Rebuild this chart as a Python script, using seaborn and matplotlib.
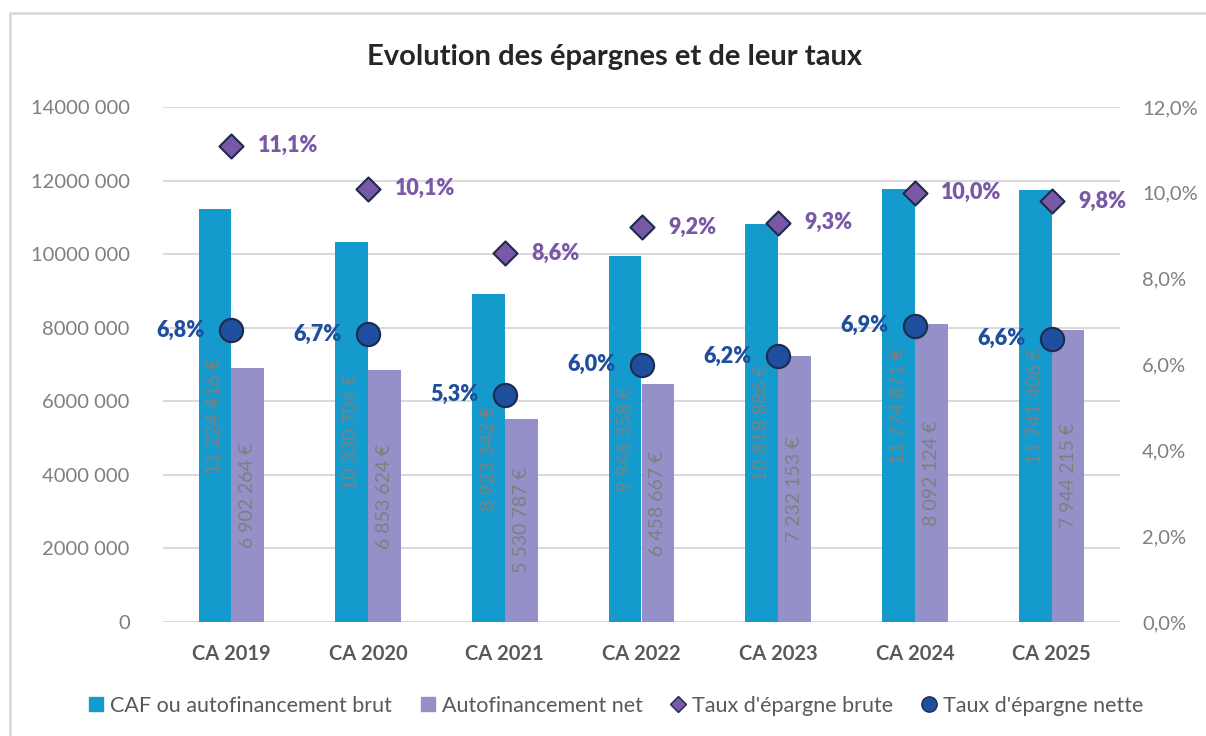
import numpy as np
import pandas as pd
import matplotlib
matplotlib.use("Agg")
import matplotlib.pyplot as plt
from matplotlib.patches import Rectangle
from matplotlib.lines import Line2D
import seaborn as sns

categories = ["CA 2019", "CA 2020", "CA 2021", "CA 2022", "CA 2023", "CA 2024", "CA 2025"]
caf_brut = [11224416, 10330704, 8923342, 9946358, 10818886, 11774871, 11741406]
autofin_net = [6902264, 6853624, 5530787, 6458667, 7232153, 8092124, 7944215]
taux_brute = [11.1, 10.1, 8.6, 9.2, 9.3, 10.0, 9.8]
taux_nette = [6.8, 6.7, 5.3, 6.0, 6.2, 6.9, 6.6]
left_ticks = [0, 2000000, 4000000, 6000000, 8000000, 10000000, 12000000, 14000000]
left_tick_labels = ["0", "2000 000", "4000 000", "6000 000", "8000 000", "10000 000", "12000 000", "14000 000"]
right_ticks = [0, 2, 4, 6, 8, 10, 12]

series_names = ["CAF ou autofinancement brut", "Autofinancement net"]
rate_names = ["Taux d'épargne brute", "Taux d'épargne nette"]

C_BLUE = "#149ACD"
C_LAV = "#9590C8"
C_DIAM = "#7A58A8"
C_NAVY = "#1F4E9E"
C_EDGE = "#1E2A4A"
C_GRID = "#D9D9D9"
C_TXT = "#595959"
C_TICK = "#7F7F7F"

sns.set_theme(style="white")
plt.rcParams["font.family"] = ["Lato", "DejaVu Sans"]

df = pd.DataFrame({
    "cat": categories * 2,
    "val": caf_brut + autofin_net,
    "serie": [series_names[0]] * len(categories) + [series_names[1]] * len(categories),
})

fig = plt.figure(figsize=(12.06, 7.36), dpi=100)
ax = fig.add_axes([163 / 1206, 1 - 622 / 736, (1120 - 163) / 1206, (622 - 107) / 736])

sns.barplot(data=df, x="cat", y="val", hue="serie", order=categories,
            hue_order=series_names, palette=[C_BLUE, C_LAV], width=0.48,
            saturation=1, errorbar=None, legend=False, ax=ax, zorder=2,
            linewidth=0)

ax.set_ylim(0, 14000000)
ax.set_xlim(-0.5, len(categories) - 0.5)
ax.set_yticks(left_ticks)
ax.set_yticklabels(left_tick_labels)
ax.yaxis.grid(True, color=C_GRID, lw=1.4)
ax.set_axisbelow(True)
for s in ax.spines.values():
    s.set_visible(False)
ax.set_xlabel("")
ax.set_ylabel("")
ax.tick_params(axis="y", length=0, pad=24, labelsize=14.5, labelcolor=C_TICK)
ax.tick_params(axis="x", length=0, pad=16, labelsize=14.5, labelcolor=C_TXT)
for t in ax.get_xticklabels():
    t.set_fontweight("bold")


def euro(v):
    s = f"{v:,}".replace(",", " ")
    return s + " €"


for cont in ax.containers:
    for bar, v in zip(cont, cont.datavalues):
        ax.text(bar.get_x() + bar.get_width() / 2, v / 2, euro(int(v)),
                rotation=90, ha="center", va="center", fontsize=14,
                color=C_TICK, zorder=3)

ax2 = ax.twinx()
ax2.set_position(ax.get_position())
x_pos = np.arange(len(categories))
sns.scatterplot(x=x_pos, y=taux_brute, marker="D", s=150, color=C_DIAM,
                edgecolor=C_EDGE, linewidth=1.5, ax=ax2, zorder=5, legend=False)
sns.scatterplot(x=x_pos, y=taux_nette, marker="o", s=280, color=C_NAVY,
                edgecolor=C_EDGE, linewidth=1.5, ax=ax2, zorder=5, legend=False)
ax2.set_ylim(0, 12)
ax2.set_xlim(-0.5, len(categories) - 0.5)
ax2.set_yticks(right_ticks)
ax2.set_yticklabels([f"{t:.1f}%".replace(".", ",") for t in right_ticks])
ax2.tick_params(axis="y", length=0, pad=16, labelsize=14.5, labelcolor=C_TICK)
ax2.grid(False)
for s in ax2.spines.values():
    s.set_visible(False)

for x, v in zip(x_pos, taux_brute):
    ax2.annotate(f"{v:.1f}%".replace(".", ","), (x, v), xytext=(19, 0),
                 textcoords="offset points", ha="left", va="center",
                 fontsize=15.5, fontweight="heavy", color=C_DIAM, zorder=6)
for x, v in zip(x_pos, taux_nette):
    ax2.annotate(f"{v:.1f}%".replace(".", ","), (x, v), xytext=(-19, 0),
                 textcoords="offset points", ha="right", va="center",
                 fontsize=15.5, fontweight="heavy", color=C_NAVY, zorder=6)

fig.text(615 / 1206, 1 - 57 / 736, "Evolution des épargnes et de leur taux",
         ha="center", va="center", fontsize=21, fontweight="bold", color="#262626")

handles = [
    Line2D([], [], marker="s", ls="", markersize=10, markerfacecolor=C_BLUE, markeredgecolor=C_BLUE),
    Line2D([], [], marker="s", ls="", markersize=10, markerfacecolor=C_LAV, markeredgecolor=C_LAV),
    Line2D([], [], marker="D", ls="", markersize=8, markerfacecolor=C_DIAM, markeredgecolor=C_EDGE),
    Line2D([], [], marker="o", ls="", markersize=11, markerfacecolor=C_NAVY, markeredgecolor=C_EDGE),
]
leg = fig.legend(handles, series_names + rate_names, loc="center",
                 bbox_to_anchor=(616 / 1206, 1 - 706 / 736), ncol=4, frameon=False,
                 fontsize=15.5, handlelength=0.7, handletextpad=0.3, columnspacing=1.3)
for t in leg.get_texts():
    t.set_color(C_TXT)

fig.patches.append(Rectangle((10 / 1206, -0.05), 1.2, 1 - 13 / 736 + 0.05,
                             transform=fig.transFigure, fill=False,
                             edgecolor=C_GRID, lw=2))

fig.savefig("out.png", dpi=100)
